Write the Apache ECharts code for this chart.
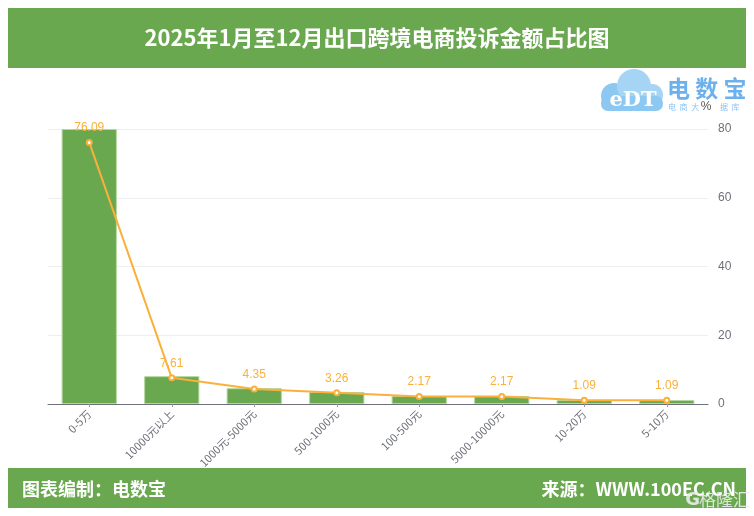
<!DOCTYPE html>
<html><head><meta charset="utf-8">
<script src="https://cdn.jsdelivr.net/npm/echarts@6/dist/echarts.min.js"></script>
<style>html,body{margin:0;padding:0;background:#fff}#c{width:754px;height:516px}</style>
</head><body><div id="c"></div>
<script>
var categories = ['0-5万','10000元以上','1000元-5000元','500-1000元','100-500元','5000-10000元','10-20万','5-10万'];
var barValues = [80, 8.1, 4.6, 3.5, 2.35, 2.35, 1.15, 1.15];
var lineValues = [76.09, 7.61, 4.35, 3.26, 2.17, 2.17, 1.09, 1.09];
var yTicks = [0, 20, 40, 60, 80];
var titleText = '2025年1月至12月出口跨境电商投诉金额占比图';

var green = '#6aa84f';
var orange = '#fbb03b';
var chart = echarts.init(document.getElementById('c'), null, {renderer:'canvas'});
chart.setOption({
  animation:false,
  backgroundColor:'#fff',
  grid:{left:48, right:46, top:129, bottom:112},
  xAxis:{type:'category', data:categories,
    axisLine:{lineStyle:{color:'#6e7079', width:1}},
    axisTick:{show:true, alignWithLabel:true, length:3, lineStyle:{color:'#999'}},
    axisLabel:{rotate:45, color:'#6e7079', fontSize:11, fontFamily:'Noto Sans CJK SC', margin:8, interval:0}
  },
  yAxis:{type:'value', position:'right', min:yTicks[0], max:yTicks[yTicks.length-1], interval:20,
    name:'%', nameGap:16, nameTextStyle:{color:'#555', fontSize:12, padding:[0,0,0,-4]},
    axisLine:{show:false}, axisTick:{show:false},
    axisLabel:{color:'#6e7079', fontSize:12, margin:10},
    splitLine:{lineStyle:{color:'#eeeeee'}}
  },
  series:[
    {type:'bar', data:barValues, barWidth:'67%',
      itemStyle:{color:green, borderColor:'#b5d6a2', borderWidth:1}, z:2},
    {type:'line', data:lineValues, symbol:'emptyCircle', symbolSize:5,
      lineStyle:{color:orange, width:2}, itemStyle:{color:orange, borderWidth:1.5},
      label:{show:true, position:'top', color:orange, fontSize:12, distance:5}, z:3}
  ],
  graphic:[
    {type:'rect', shape:{x:8, y:8, width:738, height:60}, style:{fill:green}},
    {type:'text', x:377, y:38, style:{text:titleText, fill:'#fff', font:'bold 22px "Noto Sans CJK SC"', textAlign:'center', textVerticalAlign:'middle'}},
    {type:'rect', shape:{x:8, y:468, width:738, height:40}, style:{fill:green}},
    {type:'text', x:22, y:489, style:{text:'图表编制：电数宝', fill:'#fff', font:'bold 18px "Noto Sans CJK SC"', textVerticalAlign:'middle'}},
    {type:'text', x:736, y:489, style:{text:'来源：WWW.100EC.CN', fill:'#fff', font:'bold 18px "Noto Sans CJK SC"', textAlign:'right', textVerticalAlign:'middle'}},
    {type:'text', x:750, y:500, style:{text:'格隆汇', fill:'rgba(235,235,235,0.9)', font:'17px "Noto Sans CJK SC"', textAlign:'right', textVerticalAlign:'middle'}},
    {type:'text', x:700, y:500, style:{text:'G', fill:'rgba(235,235,235,0.9)', font:'bold 18px "DejaVu Sans"', textAlign:'right', textVerticalAlign:'middle'}},
    // logo cloud
    {type:'circle', shape:{cx:614, cy:96, r:13}, style:{fill:'#8cc8f2'}},
    {type:'circle', shape:{cx:634, cy:86, r:17}, style:{fill:'#a6d4f5'}},
    {type:'circle', shape:{cx:652, cy:95, r:11}, style:{fill:'#a6d4f5'}},
    {type:'rect', shape:{x:601, y:96, width:62, height:15, r:7}, style:{fill:'#8cc8f2'}},
    {type:'text', x:633, y:101, style:{text:'eDT', fill:'#fff', font:'bold 21px "DejaVu Serif"', textAlign:'center', textVerticalAlign:'middle'}},
    {type:'text', x:667, y:88, style:{text:'电 数 宝', fill:'#6cb0ec', font:'bold 23px "Noto Sans CJK SC"', textVerticalAlign:'middle'}},
    {type:'text', x:668, y:107, style:{text:'电  商  大', fill:'#8cc2f0', font:'8px "Noto Sans CJK SC"', textVerticalAlign:'middle'}},
    {type:'text', x:720, y:107, style:{text:'据  库', fill:'#8cc2f0', font:'8px "Noto Sans CJK SC"', textVerticalAlign:'middle'}}
  ]
});
</script></body></html>
